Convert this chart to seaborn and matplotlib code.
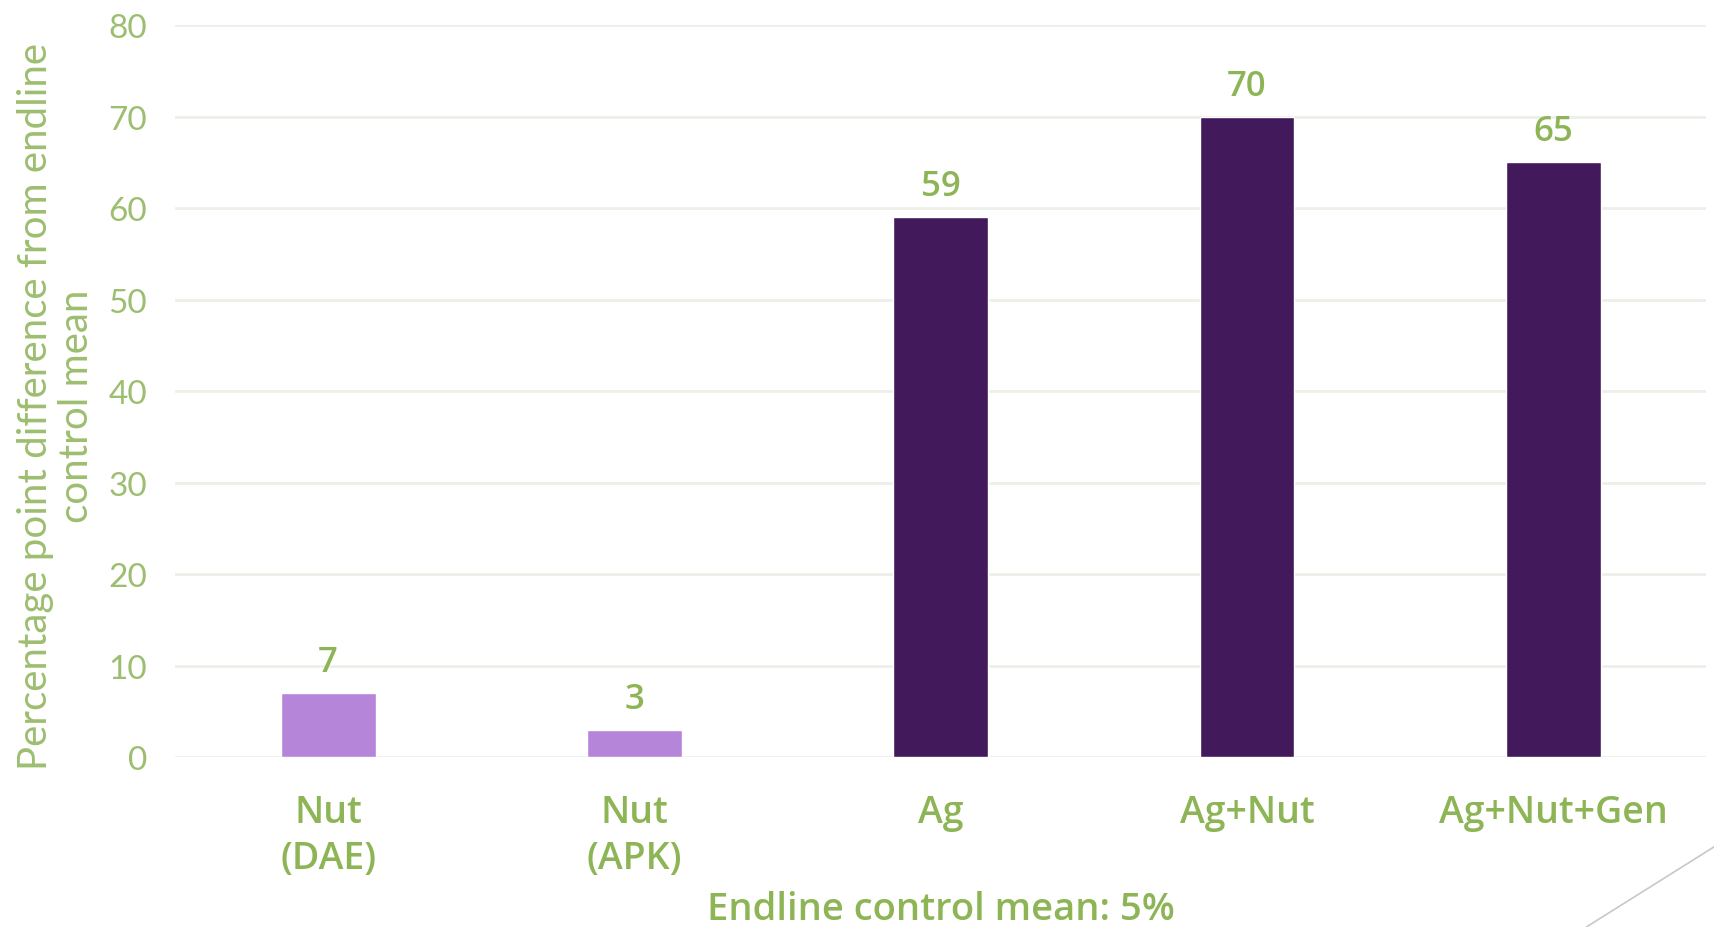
import matplotlib
matplotlib.use("Agg")
import matplotlib.pyplot as plt
import seaborn as sns
import pandas as pd
from matplotlib.lines import Line2D

categories = ["Nut\n(DAE)", "Nut\n(APK)", "Ag", "Ag+Nut", "Ag+Nut+Gen"]
values = [7, 3, 59, 70, 65]
bar_colors = ["#B585DA", "#B585DA", "#421A5B", "#421A5B", "#421A5B"]
y_ticks = [0, 10, 20, 30, 40, 50, 60, 70, 80]

green = "#8DB556"
green_light = "#9DBE70"
bold_font = ["Open Sans", "DejaVu Sans"]

sns.set_theme(style="white")
plt.rcParams["font.family"] = ["Lato", "DejaVu Sans"]

df = pd.DataFrame({"group": categories, "value": values})

fig = plt.figure(figsize=(17.15, 9.28), dpi=100)
ax = fig.add_axes([0.102, 0.183, 0.893, 0.789])

sns.barplot(data=df, x="group", y="value", hue="group", palette=bar_colors,
            width=0.31, legend=False, saturation=1, ax=ax)

for c in ax.containers:
    ax.bar_label(c, fontsize=25, fontweight=600, color=green, padding=10,
                 family=bold_font)

ax.set_ylim(0, 80)
ax.set_yticks(y_ticks)
ax.yaxis.grid(True, color="#EDF0E8", linewidth=2)
ax.set_axisbelow(True)
for s in ax.spines.values():
    s.set_visible(False)

ax.tick_params(axis="y", colors=green_light, labelsize=24, length=0, pad=20)
ax.tick_params(axis="x", colors=green, length=0, pad=26)
for t in ax.get_xticklabels():
    t.set_fontweight(600)
    t.set_family(bold_font)
    t.set_fontsize(27)
    t.set_linespacing(1.25)

ax.set_xlabel("Endline control mean: 5%", fontsize=27.5, fontweight=600,
              color=green, labelpad=10, family=bold_font)
ax.set_ylabel("Percentage point difference from endline\ncontrol mean",
              fontsize=29, color=green_light, linespacing=1.15)
ax.yaxis.set_label_coords(-0.052, 0.48)

# faint decorative slide line, bottom right
fig.add_artist(Line2D([0.925, 1.0], [0.0, 0.087], transform=fig.transFigure,
                      color="#C8C8C8", linewidth=1.2))

fig.savefig("out.png", dpi=100)
